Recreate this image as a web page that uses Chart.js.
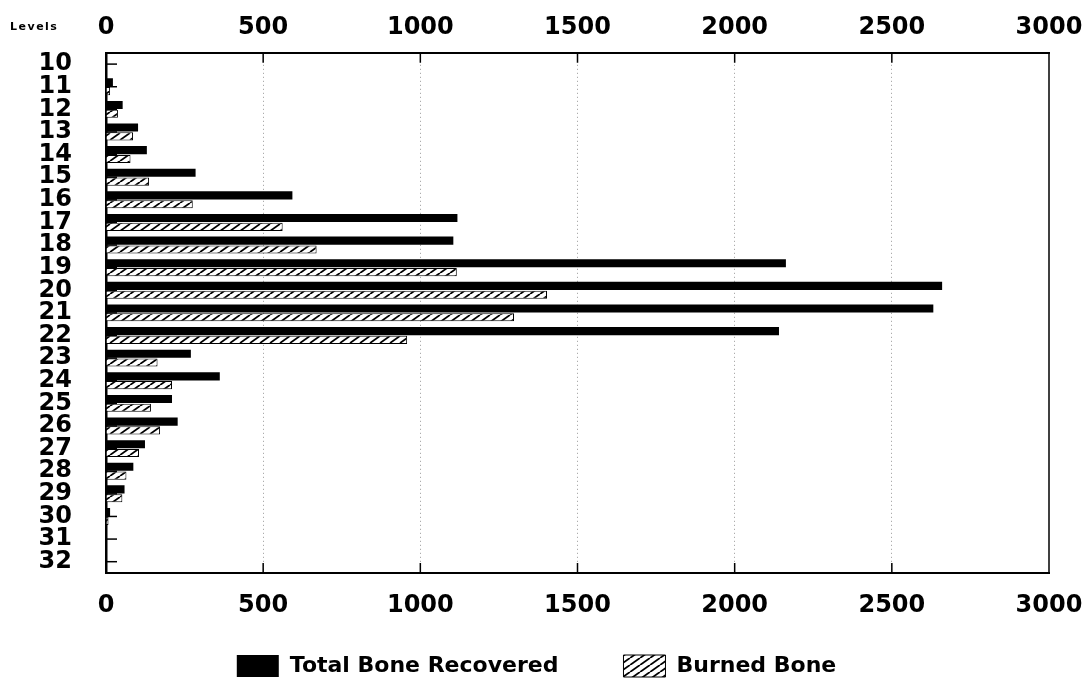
<!DOCTYPE html>
<html>
<head>
<meta charset="utf-8">
<script src="https://cdn.jsdelivr.net/npm/chart.js@4.4.1/dist/chart.umd.min.js"></script>
<style>
  html, body { margin: 0; padding: 0; background: #fff; }
  #wrap { width: 1090px; height: 687px; position: relative; }
</style>
</head>
<body>
<div id="wrap"><canvas id="c" width="1090" height="687"></canvas></div>
<script>
const levels = ['10','11','12','13','14','15','16','17','18','19','20','21','22','23','24','25','26','27','28','29','30','31','32'];
const totalBone = [0, 22, 53, 102, 130, 285, 593, 1118, 1105, 2163, 2660, 2632, 2141, 270, 362, 210, 228, 124, 87, 59, 13, 0, 0];
const burnedBone = [0, 13, 38, 86, 78, 137, 276, 562, 670, 1116, 1403, 1298, 958, 164, 210, 143, 172, 105, 65, 52, 8, 0, 0];
const xTicks = [0, 500, 1000, 1500, 2000, 2500, 3000];
const seriesNames = ['Total Bone Recovered', 'Burned Bone'];
const axisCaption = 'Levels';

function makeHatch() {
  const w = 10, h = 7;
  const c = document.createElement('canvas');
  c.width = w; c.height = h;
  const g = c.getContext('2d');
  g.fillStyle = '#fff';
  g.fillRect(0, 0, w, h);
  g.strokeStyle = '#000';
  g.lineWidth = 1.8;
  for (let k = -1; k <= 1; k++) {
    g.beginPath();
    g.moveTo(k * w, h);
    g.lineTo(k * w + w, 0);
    g.stroke();
  }
  return document.getElementById('c').getContext('2d').createPattern(c, 'repeat');
}
const hatch = makeHatch();

const FONT = "'DejaVu Sans', sans-serif";
const tickFmt = v => String(v);

const decor = {
  id: 'decor',
  beforeDatasetsDraw(chart) {
    const ctx = chart.ctx, a = chart.chartArea;
    const xs = chart.scales.x, ys = chart.scales.y;
    ctx.save();
    ctx.strokeStyle = '#000';
    ctx.lineWidth = 1.5;
    levels.forEach((l, i) => {
      const y = ys.getPixelForTick(i);
      ctx.beginPath();
      ctx.moveTo(a.left, y);
      ctx.lineTo(a.left + 11, y);
      ctx.stroke();
    });
    xTicks.slice(1, -1).forEach(v => {
      const x = xs.getPixelForValue(v);
      ctx.beginPath();
      ctx.moveTo(x, a.top); ctx.lineTo(x, a.top + 10);
      ctx.moveTo(x, a.bottom); ctx.lineTo(x, a.bottom - 10);
      ctx.stroke();
    });
    ctx.restore();
  },
  afterDraw(chart) {
    const ctx = chart.ctx, a = chart.chartArea;
    ctx.save();
    ctx.strokeStyle = '#000';
    ctx.lineWidth = 1.5;
    ctx.beginPath();
    ctx.moveTo(a.right, a.top);
    ctx.lineTo(a.right, a.bottom);
    ctx.stroke();
    ctx.fillStyle = '#000';
    ctx.font = "bold 11px " + FONT;
    try { ctx.letterSpacing = '1.5px'; } catch (e) {}
    ctx.textBaseline = 'middle';
    ctx.textAlign = 'left';
    ctx.fillText(axisCaption, 10, 27);
    ctx.restore();
  }
};

function legendLabels(chart) {
  const items = Chart.defaults.plugins.legend.labels.generateLabels(chart);
  // empty spacer entry between the two series, widens the gap like the original key
  const spacer = { text: '', fillStyle: 'rgba(0,0,0,0)', strokeStyle: 'rgba(0,0,0,0)', lineWidth: 0, hidden: false, datasetIndex: -1 };
  return [items[0], spacer, items[1]];
}

const fitX = s => { s.paddingRight = 0; s.paddingLeft = 0; };

new Chart(document.getElementById('c'), {
  type: 'bar',
  data: {
    labels: levels,
    datasets: [
      {
        label: seriesNames[0],
        data: totalBone,
        backgroundColor: '#000',
        borderColor: '#000',
        borderWidth: 0,
        categoryPercentage: 0.78,
        barPercentage: 0.92,
        xAxisID: 'x',
        yAxisID: 'y'
      },
      {
        label: seriesNames[1],
        data: burnedBone,
        backgroundColor: hatch,
        borderColor: '#000',
        borderWidth: 1,
        categoryPercentage: 0.78,
        barPercentage: 0.92,
        xAxisID: 'x',
        yAxisID: 'y'
      }
    ]
  },
  options: {
    indexAxis: 'y',
    responsive: false,
    animation: false,
    devicePixelRatio: 1,
    layout: { padding: { top: 2, right: 41, bottom: 0, left: 24 } },
    plugins: {
      tooltip: { enabled: false },
      legend: {
        position: 'bottom',
        labels: {
          color: '#000',
          boxWidth: 42,
          boxHeight: 22,
          padding: 6,
          generateLabels: legendLabels,
          font: { family: FONT, size: 22, weight: 'bold' }
        }
      }
    },
    scales: {
      x: {
        position: 'bottom',
        min: 0, max: 3000,
        afterBuildTicks: s => { s.ticks = xTicks.map(v => ({ value: v })); },
        afterFit: s => { s.height = 76; fitX(s); },
        ticks: {
          color: '#000',
          padding: 18,
          maxRotation: 0,
          callback: tickFmt,
          font: { family: FONT, size: 24, weight: 'bold' }
        },
        grid: {
          drawTicks: false,
          color: ctx => (ctx.tick && (ctx.tick.value === 0 || ctx.tick.value === 3000)) ? 'rgba(0,0,0,0)' : '#999',
          lineWidth: 1
        },
        border: { display: true, color: '#000', width: 2, dash: [1, 3] }
      },
      x2: {
        position: 'top',
        axis: 'x',
        type: 'linear',
        min: 0, max: 3000,
        afterBuildTicks: s => { s.ticks = xTicks.map(v => ({ value: v })); },
        afterFit: fitX,
        ticks: {
          color: '#000',
          padding: 11,
          maxRotation: 0,
          callback: tickFmt,
          font: { family: FONT, size: 24, weight: 'bold' }
        },
        grid: { display: false, drawTicks: false },
        border: { display: true, color: '#000', width: 2 }
      },
      y: {
        position: 'left',
        afterFit: s => { s.width = 82; },
        ticks: {
          color: '#000',
          padding: 34,
          autoSkip: false,
          font: { family: FONT, size: 24, weight: 'bold', lineHeight: 1 }
        },
        grid: { display: false, drawTicks: false },
        border: { display: true, color: '#000', width: 2.5 }
      }
    }
  },
  plugins: [decor]
});
</script>
</body>
</html>
